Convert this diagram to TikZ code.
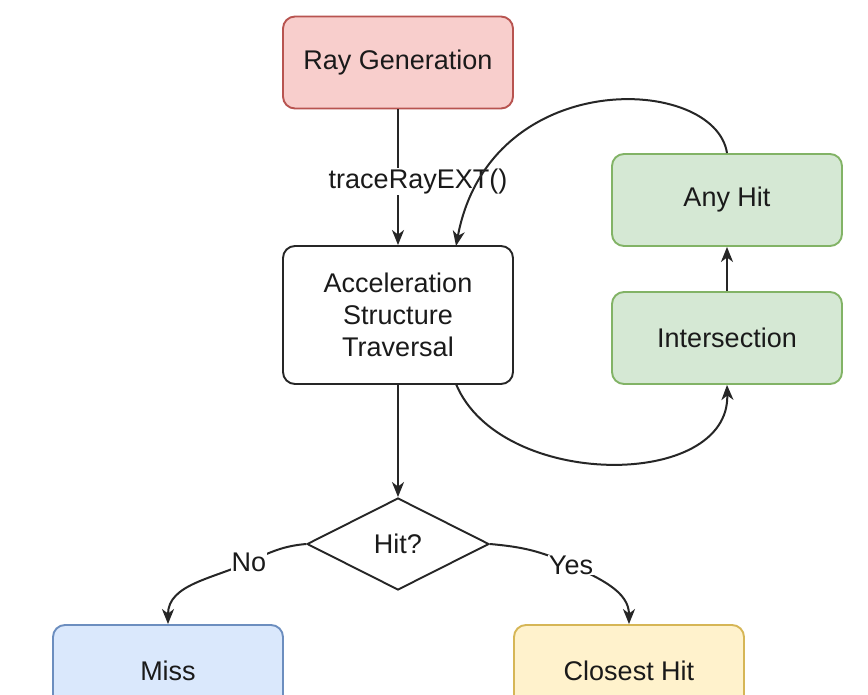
\documentclass[tikz,border=0pt]{standalone}
\usepackage{fontspec}
\setmainfont{Liberation Sans}
\usetikzlibrary{shapes.geometric,arrows.meta}
\definecolor{redfill}{HTML}{F8CECC}
\definecolor{redline}{HTML}{B85450}
\definecolor{greenfill}{HTML}{D5E8D4}
\definecolor{greenline}{HTML}{82B366}
\definecolor{bluefill}{HTML}{DAE8FC}
\definecolor{blueline}{HTML}{6C8EBF}
\definecolor{yellowfill}{HTML}{FFF2CC}
\definecolor{yellowline}{HTML}{D6B656}
\definecolor{txt}{HTML}{1A1A1A}
\tikzset{
  box/.style={draw, line width=1.9pt, rounded corners=12pt, minimum width=230pt, minimum height=92pt, inner sep=0pt, align=center, text=txt, font=\fontsize{27}{32}\selectfont},
  redbox/.style={box, fill=redfill, draw=redline},
  greenbox/.style={box, fill=greenfill, draw=greenline},
  bluebox/.style={box, fill=bluefill, draw=blueline},
  yellowbox/.style={box, fill=yellowfill, draw=yellowline},
  whitebox/.style={box, fill=white, draw=black!85, minimum height=138pt},
  decision/.style={draw=black!85, line width=1.9pt, shape=diamond, minimum width=182pt, minimum height=92pt, inner sep=0pt, text=txt, font=\fontsize{27}{32}\selectfont},
  conn/.style={line width=2pt, draw=black!85, -{Stealth[length=15pt,width=12pt,inset=4.5pt]}},
  lbl/.style={fill=white, inner sep=1pt, text=txt, font=\fontsize{27}{32}\selectfont}
}
\begin{document}
\begin{tikzpicture}[x=1pt,y=-1pt]
\useasboundingbox (0,0) rectangle (868,694);
\clip (0,0) rectangle (868,694);
\fill[white] (0,0) rectangle (868,694);
\node[redbox] (ray) at (398,62.5) {Ray Generation};
\node[whitebox] (acc) at (398,315) {Acceleration\\Structure\\Traversal};
\node[greenbox] (any) at (727,200) {Any Hit};
\node[greenbox] (inter) at (727,338) {Intersection};
\node[decision] (hit) at (398,544) {Hit?};
\node[bluebox] (miss) at (168,671) {Miss};
\node[yellowbox] (closest) at (629,671) {Closest Hit};
\coordinate (accTopR) at (456,246);
\coordinate (accBotR) at (456,384);
\coordinate (nopt) at (249,562);
\coordinate (yespt) at (571,565);
% edges
\draw[conn] (ray) -- (acc) node[lbl, pos=0.53, xshift=20pt] (trace) {traceRayEXT()};
\draw[conn] (any.north) .. controls (715,75) and (490,65) .. (accTopR);
\draw[conn] (accBotR) .. controls (500,490) and (730,490) .. (inter.south);
\draw[conn] (inter) -- (any);
\draw[conn] (acc) -- (hit);
\draw[conn] (hit.west) to[out=185,in=25] (nopt) to[out=205,in=90] (miss.north);
\draw[conn] (hit.east) to[out=-5,in=155] (yespt) to[out=-25,in=90] (closest.north);
\node[lbl] (no) at (nopt) {No};
\node[lbl] (yes) at (yespt) {Yes};
\end{tikzpicture}
\end{document}
